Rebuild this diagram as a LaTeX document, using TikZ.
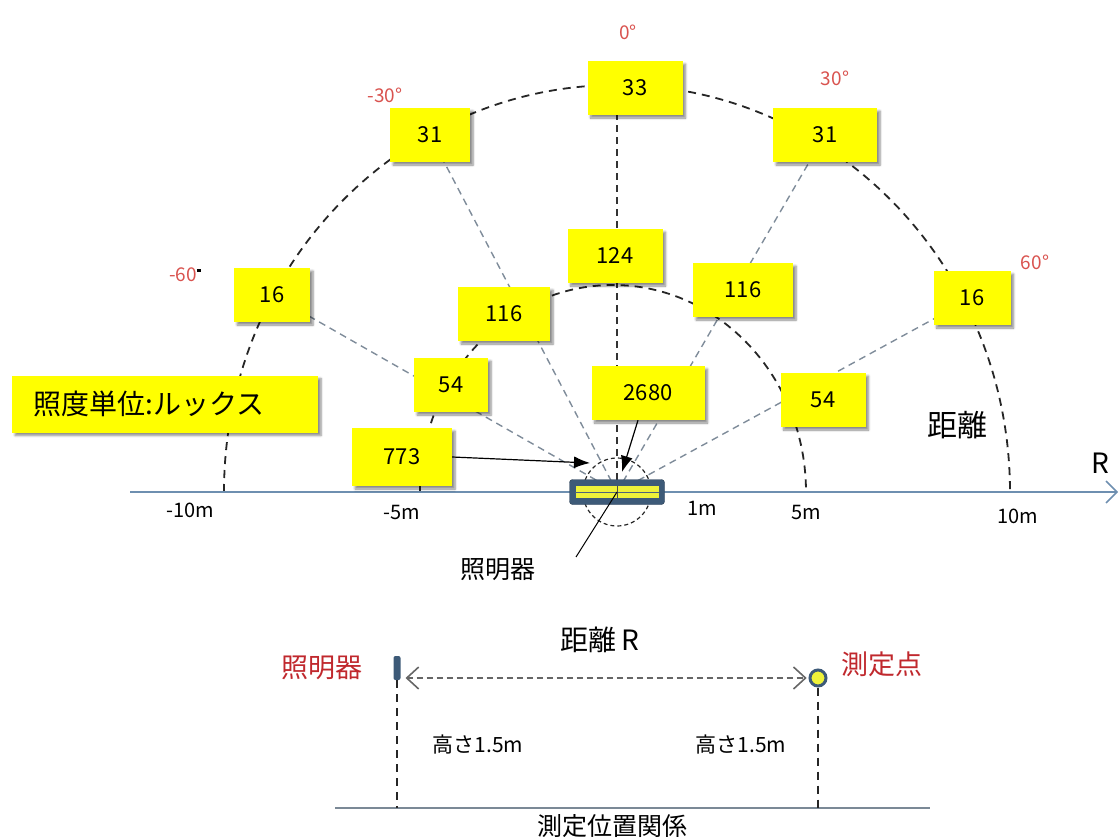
\documentclass[tikz,border=0pt]{standalone}
\usepackage{fontspec}
\setmainfont{Noto Sans CJK JP}
\usetikzlibrary{arrows.meta,shadows.blur}
\definecolor{boxyellow}{HTML}{FFFF00}
\definecolor{axisblue}{HTML}{6E8FB0}
\definecolor{raygray}{HTML}{7F8C9A}
\definecolor{degred}{HTML}{D9534F}
\definecolor{namered}{HTML}{C0282D}
\definecolor{lampblue}{HTML}{3D5A78}
\definecolor{lampyellow}{HTML}{EEF23A}
\tikzset{
  valbox/.style={fill=boxyellow, minimum height=54pt, minimum width=#1, inner sep=0pt,
    font=\fontsize{22}{24}\selectfont,
    blur shadow={shadow xshift=3pt, shadow yshift=-3pt, shadow blur steps=6, shadow opacity=45}},
  valbox/.default=82pt,
  ray/.style={raygray, line width=1.4pt, dash pattern=on 7pt off 5pt},
  ring/.style={black!85, line width=1.8pt, dash pattern=on 8pt off 6pt},
  deg/.style={degred, font=\fontsize{19}{21}\selectfont},
  tickname/.style={font=\fontsize{20}{22}\selectfont},
  ptr/.style={black, line width=1.2pt, -{Latex[length=16pt,width=12pt]}},
  namelabel/.style={namered, font=\fontsize{27}{29}\selectfont},
  plain/.style={font=\fontsize{21}{23}\selectfont},
  chevline/.style={line width=1.6pt, line join=miter},
}
\begin{document}
\begin{tikzpicture}[x=1pt, y=-1pt]
    \useasboundingbox (0,0) rectangle (1120,840);
    \coordinate (ctr) at (617,492);
    \coordinate (axL) at (130,492);
    \coordinate (axR) at (1117,492);
    \node[deg] (dL60) at (185,275) {-60\textcolor{black}{\rule[10pt]{4pt}{3pt}}};
    \node[deg] (dL30) at (385,95) {-30°};
    \node[deg] (dC) at (628,32) {0°};
    \node[deg] (dR30) at (835,78) {30°};
    \node[deg] (dR60) at (1035,262) {60°};
    \draw[ring] (224,492) arc[start angle=180, end angle=360, x radius=393, y radius=407];
    \draw[ring] (420,492) arc[start angle=180, end angle=360, x radius=193, y radius=207];
    \draw[ring, line width=1.2pt, dash pattern=on 4pt off 3pt] (ctr) circle [radius=34];
    \coordinate (oL60) at (272,295);
    \coordinate (oL30) at (430,135);
    \coordinate (oR30) at (825,135);
    \coordinate (oR60) at (972,298);
    \draw[ray] (ctr) -- (oL60);
    \draw[ray] (ctr) -- (oL30);
    \draw[ray, black!80] (ctr) -- (617,115);
    \draw[ray] (ctr) -- (oR30);
    \draw[ray] (ctr) -- (oR60);
    \draw[axisblue, line width=1.5pt] (axL) -- (axR);
    \draw[axisblue, chevline] ([xshift=-11pt,yshift=11pt]axR) -- (axR) -- ([xshift=-11pt,yshift=-11pt]axR);
    \node[valbox=76pt] (outL60) at (oL60) {16};
    \node[valbox=80pt] (outL30) at (oL30) {31};
    \node[valbox=95pt] (outC) at (635,88) {33};
    \node[valbox=104pt] (outR30) at (oR30) {31};
    \node[valbox=77pt] (outR60) at (oR60) {16};
    \node[valbox=74pt] (inL60) at (451,385) {54};
    \node[valbox=92pt] (inL30) at (504,314) {116};
    \node[valbox=95pt] (inC) at (615,256) {124};
    \node[valbox=100pt] (inR30) at (743,290) {116};
    \node[valbox=85pt] (inR60) at (823,400) {54};
    \node[valbox=113pt] (b2680) at (648,393) {2680};
    \node[valbox=100pt, minimum height=58pt] (b773) at (402,457) {773};
    \node[fill=boxyellow, inner xsep=22pt, text width=262pt, align=left, minimum height=57pt,
      font=\fontsize{28}{30}\selectfont,
      blur shadow={shadow xshift=3pt, shadow yshift=-3pt, shadow blur steps=6, shadow opacity=45}]
      (unit) at (165,404) {照度単位:ルックス};
    \node[fill=lampblue, draw=lampblue!70!black, rounded corners=3pt, minimum width=95pt,
      minimum height=25pt, inner sep=0pt] (lamp) at (ctr) {};
    \node[fill=lampyellow, minimum width=83pt, minimum height=12pt, inner sep=0pt] (stripe) at (ctr) {};
    \draw[axisblue!70!black, line width=0.8pt] (stripe.west) -- (stripe.east);
    \draw[black!70, line width=0.6pt] (stripe.north) -- (stripe.south);
    \coordinate (tip773) at (590,463);
    \coordinate (tip2680) at (622,472);
    \draw[ptr] (b773.east) -- (tip773);
    \draw[ptr] ([xshift=-10pt]b2680.south) -- (tip2680);
    \node[tickname] (tL10) at (190,510) {-10m};
    \node[tickname] (tL5) at (402,512) {-5m};
    \node[tickname] (t1) at (702,508) {1m};
    \node[tickname] (tR5) at (806,512) {5m};
    \node[tickname] (tR10) at (1018,516) {10m};
    \node[font=\fontsize{28}{30}\selectfont] (axname) at (1100,463) {R};
    \node[font=\fontsize{30}{32}\selectfont] (dist) at (957,425) {距離};
    \node[font=\fontsize{25}{27}\selectfont] (lampname) at (498,570) {照明器};
    \coordinate (lampptr) at (576,557);
    \draw[black, line width=1pt] (lampptr) -- (ctr);
    \node[namelabel] (lampname2) at (322,668) {照明器};
    \node[fill=lampblue, rounded corners=2pt, minimum width=7pt, minimum height=24pt, inner sep=0pt]
      (minilamp) at (397,668) {};
    \node[circle, fill=lampyellow, draw=lampblue, line width=3pt, minimum size=16pt, inner sep=0pt]
      (mpoint) at (818,678) {};
    \node[namelabel] (mname) at (882,664) {測定点};
    \node[font=\fontsize{28}{30}\selectfont] (distR) at (600,640) {距離\,R};
    \coordinate (arL) at ([xshift=6pt]minilamp.east |- mpoint.west);
    \coordinate (arR) at ([xshift=-3pt]mpoint.west);
    \draw[black!60, line width=1.3pt, dash pattern=on 6pt off 4pt] (arL) -- (arR);
    \draw[black!60, chevline] ([xshift=12pt,yshift=11pt]arL) -- (arL) -- ([xshift=12pt,yshift=-11pt]arL);
    \draw[black!60, chevline] ([xshift=-12pt,yshift=11pt]arR) -- (arR) -- ([xshift=-12pt,yshift=-11pt]arR);
    \coordinate (gl) at (335,808);
    \coordinate (gr) at (930,808);
    \draw[axisblue!60!black!70, line width=1.2pt] (gl) -- (gr);
    \draw[ring, line width=1.4pt] (minilamp.south) -- (minilamp.south |- gl);
    \draw[ring, line width=1.4pt] (mpoint.south) -- (mpoint.south |- gl);
    \node[plain] (hL) at (478,745) {高さ1.5m};
    \node[plain] (hR) at (741,745) {高さ1.5m};
    \node[font=\fontsize{25}{27}\selectfont] (relname) at (612,826) {測定位置関係};
\end{tikzpicture}
\end{document}
